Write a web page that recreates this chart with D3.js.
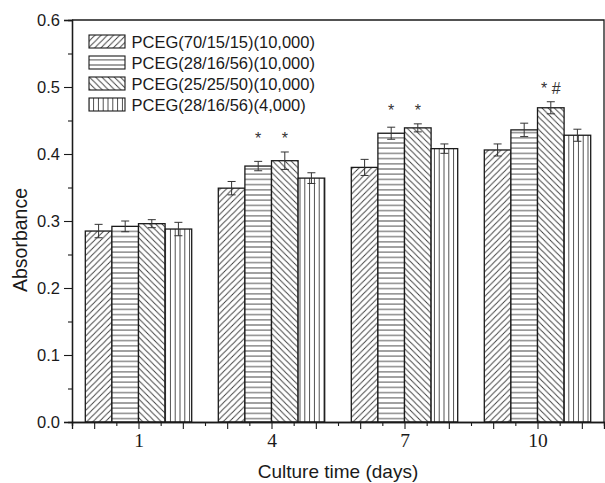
<!DOCTYPE html>
<html><head><meta charset="utf-8">
<script src="https://cdn.jsdelivr.net/npm/d3@7"></script>
<style>html,body{margin:0;padding:0;background:#fff;} svg{display:block;}</style>
</head><body>
<svg id="chart" width="605" height="483"></svg>
<script>
// ---- data ----
const days = [1, 4, 7, 10];
const dayLabels = ["1", "4", "7", "10"];
const seriesNames = ["PCEG(70/15/15)(10,000)", "PCEG(28/16/56)(10,000)", "PCEG(25/25/50)(10,000)", "PCEG(28/16/56)(4,000)"];
const series1 = [0.285, 0.349, 0.380, 0.406];
const series2 = [0.292, 0.382, 0.431, 0.436];
const series3 = [0.296, 0.390, 0.439, 0.469];
const series4 = [0.288, 0.364, 0.408, 0.428];
const err1 = [0.010, 0.010, 0.012, 0.009];
const err2 = [0.008, 0.007, 0.009, 0.010];
const err3 = [0.006, 0.013, 0.006, 0.009];
const err4 = [0.010, 0.008, 0.007, 0.009];
const yTicks = [0.0, 0.1, 0.2, 0.3, 0.4, 0.5, 0.6];
const yTickLabels = ["0.0", "0.1", "0.2", "0.3", "0.4", "0.5", "0.6"];
const annDay = [4, 4, 7, 7, 10];
const annSeries = [1, 2, 1, 2, 2];
const annText = ["*", "*", "*", "*", "* #"];
const xTitle = "Culture time (days)";
const yTitle = "Absorbance";

const values = [series1, series2, series3, series4];
const errors = [err1, err2, err3, err4];

// ---- layout ----
const L = 72, R = 604, T = 20, B = 422;
const svg = d3.select("#chart");
const x = d3.scaleLinear().domain([-0.5, 11.5]).range([L, R]);
const y = d3.scaleLinear().domain([0, 0.6]).range([B, T]);
const barW = 0.6; // in days
const ink = "#1a1a1a";
const hatch = "#3a3a3a";
const sans = "Liberation Sans, Arial, sans-serif";

// ---- patterns ----
const defs = svg.append("defs");
function pat(id, w, h, d) {
  const p = defs.append("pattern").attr("id", id).attr("patternUnits", "userSpaceOnUse")
    .attr("width", w).attr("height", h);
  p.append("rect").attr("width", w).attr("height", h).attr("fill", "#fff");
  p.append("path").attr("d", d).attr("stroke", hatch).attr("stroke-width", 0.9).attr("fill", "none");
}
const s = 6.2;
pat("p0", s, s, `M0,${s} L${s},0 M${-s/2},${s/2} L${s/2},${-s/2} M${s/2},${s*1.5} L${s*1.5},${s/2}`);
pat("p1", 10, 5.2, "M0,2.6 L10,2.6");
pat("p2", s, s, `M0,0 L${s},${s} M${-s/2},${s/2} L${s/2},${s*1.5} M${s/2},${-s/2} L${s*1.5},${s/2}`);
pat("p3", 4.8, 10, "M2.4,0 L2.4,10");

// ---- bars ----
const bars = [];
values.forEach((arr, si) => arr.forEach((v, gi) => bars.push({si, gi, v, e: errors[si][gi], day: days[gi]})));
const left = d => x(d.day - 2 * barW + d.si * barW);
svg.append("g").selectAll("rect").data(bars).join("rect")
  .attr("x", d => left(d))
  .attr("y", d => y(d.v))
  .attr("width", d => x(barW) - x(0))
  .attr("height", d => y(0) - y(d.v))
  .attr("fill", d => `url(#p${d.si})`)
  .attr("stroke", ink).attr("stroke-width", 1.3);

// ---- error bars ----
const eg = svg.append("g").attr("stroke", "#333").attr("stroke-width", 1).attr("fill", "none");
bars.forEach(d => {
  const cx = left(d) + (x(barW) - x(0)) / 2;
  const y1 = y(d.v + d.e), y2 = y(d.v - d.e);
  eg.append("line").attr("x1", cx).attr("x2", cx).attr("y1", y1).attr("y2", y2);
  eg.append("line").attr("x1", cx - 4).attr("x2", cx + 4).attr("y1", y1).attr("y2", y1);
  eg.append("line").attr("x1", cx - 4).attr("x2", cx + 4).attr("y1", y2).attr("y2", y2);
});

// ---- annotations ----
annText.forEach((t, i) => {
  const gi = days.indexOf(annDay[i]);
  const grp = bars.filter(b => b.gi === gi && annDay.some((dd, j) => dd === annDay[i] && annSeries[j] === b.si));
  const top = d3.min(grp, b => y(b.v + b.e));
  const si = annSeries[i];
  const cx = x(annDay[i] - 2 * barW + si * barW + barW / 2);
  svg.append("text").attr("x", cx).attr("y", top - 8).attr("text-anchor", "middle")
    .attr("font-family", sans).attr("font-size", 16).attr("fill", "#333")
    .text(t);
});

// ---- axes ----
const yAxis = svg.append("g").attr("transform", `translate(${L},0)`)
  .call(d3.axisLeft(y).tickValues(yTicks).tickFormat((d, i) => yTickLabels[i]).tickSize(8).tickPadding(4));
svg.append("g").attr("transform", `translate(${L},0)`)
  .call(d3.axisLeft(y).tickValues(d3.range(0.05, 0.6, 0.1)).tickFormat("").tickSize(4));
const majorX = d3.range(0, 12);
const xAxis = svg.append("g").attr("transform", `translate(0,${B})`)
  .call(d3.axisBottom(x).tickValues(majorX).tickFormat(d => { const k = days.indexOf(d); return k >= 0 ? dayLabels[k] : ""; }).tickSize(7));
svg.append("g").attr("transform", `translate(0,${B})`)
  .call(d3.axisBottom(x).tickValues(d3.range(-0.5, 11.6, 1)).tickFormat("").tickSize(4));
svg.selectAll(".domain").attr("stroke", ink).attr("stroke-width", 1.3);
svg.selectAll(".tick line").attr("stroke", ink).attr("stroke-width", 1.1);
yAxis.selectAll("text").attr("font-family", sans).attr("font-size", 16.5).attr("fill", ink).attr("dy", "0.36em");
xAxis.selectAll("text").attr("font-family", "Liberation Serif, Times New Roman, serif").attr("font-size", 19.5)
  .attr("fill", ink).attr("y", 24.5).attr("dy", null);

// frame top/right
svg.append("path").attr("d", `M${L},${T} L${R},${T} L${R},${B}`).attr("fill", "none").attr("stroke", ink).attr("stroke-width", 1.3);

// ---- titles ----
svg.append("text").attr("x", (L + R) / 2).attr("y", 478).attr("text-anchor", "middle")
  .attr("font-family", sans).attr("font-size", 19).attr("fill", ink).text(xTitle);
svg.append("text").attr("transform", "translate(27,240) rotate(-90)").attr("text-anchor", "middle")
  .attr("font-family", sans).attr("font-size", 19.5).attr("fill", ink).text(yTitle);

// ---- legend ----
const lg = svg.append("g");
seriesNames.forEach((n, i) => {
  const yy = 35 + i * 21;
  lg.append("rect").attr("x", 89).attr("y", yy).attr("width", 36).attr("height", 13)
    .attr("fill", `url(#p${i})`).attr("stroke", ink).attr("stroke-width", 1.1);
  lg.append("text").attr("x", 131.5).attr("y", yy + 12.5)
    .attr("font-family", sans).attr("font-size", 16.5).attr("fill", ink).text(n);
});
</script>
</body></html>
